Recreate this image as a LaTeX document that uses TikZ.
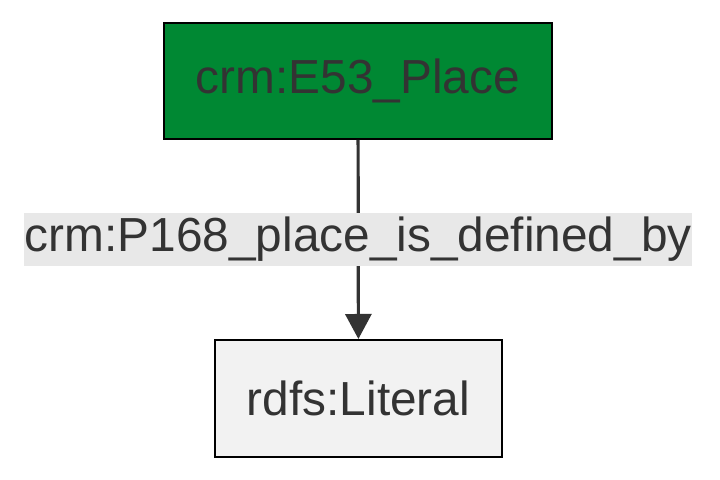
\documentclass[tikz,border=0pt]{standalone}
\usepackage{fontspec}
\setmainfont{Liberation Sans}
\usepackage{xcolor}
\usetikzlibrary{arrows.meta}
\definecolor{txtgray}{HTML}{333333}
\definecolor{placegreen}{HTML}{008833}
\definecolor{litgray}{HTML}{F2F2F2}
\definecolor{lblgray}{HTML}{E8E8E8}
\begin{document}
\begin{tikzpicture}[x=1pt,y=1pt,
        classbox/.style={draw=black, line width=1pt, inner sep=0pt, text=txtgray,
            font=\fontsize{23.9}{28}\selectfont},
        link/.style={draw=txtgray, line width=1.6pt, -{Triangle[width=13pt,length=12.5pt]}},
        linklabel/.style={fill=lblgray, inner sep=0pt, minimum width=334pt, minimum height=26.5pt,
            text=txtgray, font=\fontsize{23.9}{28}\selectfont}]
                \useasboundingbox (0,0) rectangle (360,-240);
                \node [classbox, fill=placegreen, minimum width=194pt, minimum height=58pt] (place) at (179,-40.5) {crm:E53\_Place};
                \node [classbox, fill=litgray, minimum width=143.5pt, minimum height=58.5pt] (literal) at (179.25,-199.25) {rdfs:Literal};
                \draw [link] (place) -- node [linklabel, pos=0.5]{crm:P168\_place\_is\_defined\_by} (literal);
            \end{tikzpicture}
\end{document}
